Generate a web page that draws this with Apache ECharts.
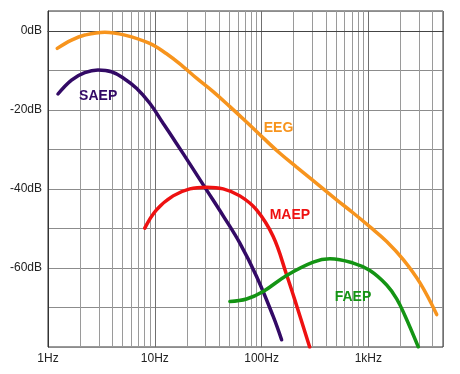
<!DOCTYPE html>
<html>
<head>
<meta charset="utf-8">
<script src="https://cdn.jsdelivr.net/npm/echarts@6/dist/echarts.min.js"></script>
<style>html,body{margin:0;padding:0;background:#fff}#c{width:460px;height:374px}</style>
</head>
<body>
<div id="c"></div>
<script>
// Frequencies (Hz) and levels (dB)
const eegFreq  = [1.22, 1.66, 2.21, 3.4, 5.24, 8.96, 12.8, 18.4, 24.6, 35.2, 50.5, 72.3, 103.5, 148.4, 212.8, 304.5, 406.6, 504.6, 722, 1035, 1484, 2124, 3045, 4367];
const eegDb    = [-4.45, -2.35, -1.09, -0.35, -1.09, -3.2, -5.76, -9.05, -12.0, -15.4, -19.2, -23.1, -27.1, -31.0, -34.5, -37.9, -40.7, -42.78, -46.1, -49.6, -53.3, -57.9, -63.8, -71.8];

const saepFreq = [1.24, 1.66, 2.21, 2.94, 3.93, 5.1, 6.74, 8.98, 11.96, 15.97, 21.28, 30.5, 43.7, 62.6, 89.8, 128.5, 154];
const saepDb   = [-16.0, -12.46, -10.6, -9.93, -10.36, -12.0, -14.55, -18.35, -23.4, -28.5, -33.68, -40.25, -46.82, -53.72, -62.16, -72.27, -78.16];

const maepFreq = [8.06, 10.37, 14.85, 21.28, 30.5, 43.7, 62.6, 89.8, 128.5, 171.5, 212.8, 282];
const maepDb   = [-49.93, -45.3, -41.77, -40.0, -39.57, -40.0, -41.77, -45.3, -52.05, -61.73, -69.5, -80.0];

const faepFreq = [50.5, 72.3, 103.5, 171.5, 304.5, 436.6, 722, 1035, 1484, 1842, 2203, 2936];
const faepDb   = [-68.48, -67.87, -65.95, -61.9, -58.52, -57.68, -58.77, -60.64, -64.3, -67.8, -72.1, -80.0];

const xTickValues = [1, 10, 100, 1000];
const xTickLabels = ['1Hz', '10Hz', '100Hz', '1kHz'];
const yTickValues = [0, -20, -40, -60];
const yTickLabels = ['0dB', '-20dB', '-40dB', '-60dB'];
const minorFreqs = [2,3,4,5,6,7,8,9,20,30,40,50,60,70,80,90,200,300,400,500,600,700,800,900,2000,3000,4000];

const seriesNames = ['EEG', 'SAEP', 'MAEP', 'FAEP'];
const seriesColors = ['#F7941D', '#330A66', '#EE1111', '#149414'];
const labelPos = [[144, -24.66], [2.95, -16.6], [184, -46.6], [717, -67.4]];

const zip = (a, b) => a.map((v, i) => [v, b[i]]);
const datasets = [zip(eegFreq, eegDb), zip(saepFreq, saepDb), zip(maepFreq, maepDb), zip(faepFreq, faepDb)];

const chart = echarts.init(document.getElementById('c'), null, {renderer: 'canvas'});
const font = '"Liberation Sans", Arial, sans-serif';

const lineSeries = datasets.map((d, i) => ({
  name: seriesNames[i],
  type: 'line',
  data: d,
  smooth: 0.4,
  showSymbol: false,
  z: 5,
  lineStyle: {color: seriesColors[i], width: 3.5, cap: 'round'},
  markPoint: {
    symbol: 'circle', symbolSize: 0, silent: true,
    label: {show: true, position: 'inside', formatter: seriesNames[i], color: seriesColors[i],
            fontFamily: font, fontWeight: 'bold', fontSize: 14},
    data: [{coord: labelPos[i]}]
  }
}));

const gridSeries = {
  type: 'line', data: [], z: 1, silent: true,
  markLine: {
    silent: true, symbol: 'none', animation: false,
    label: {show: false},
    lineStyle: {color: '#9a9a9a', width: 1, type: 'solid'},
    data: minorFreqs.map(v => ({xAxis: v})).concat([{yAxis: 0, lineStyle: {color: '#444', width: 1, type: 'solid'}}])
  }
};

chart.setOption({
  animation: false,
  backgroundColor: '#fff',
  grid: {left: 48, right: 17, top: 11, bottom: 27, show: true, borderColor: '#333', borderWidth: 1, containLabel: false},
  xAxis: {
    type: 'log', logBase: 10, min: 1, max: 5000,
    axisLine: {show: true, lineStyle: {color: '#333'}},
    axisTick: {show: false},
    axisLabel: {
      color: '#222', fontFamily: font, fontSize: 12, margin: 6,
      formatter: v => { const i = xTickValues.findIndex(t => Math.abs(t - v) < 1e-6 * t); return i >= 0 ? xTickLabels[i] : ''; }
    },
    splitLine: {show: true, lineStyle: {color: '#707070', width: 1}}
  },
  yAxis: {
    type: 'value', min: -80, max: 5, interval: 10,
    axisLine: {show: true, lineStyle: {color: '#333'}},
    axisTick: {show: false},
    axisLabel: {
      color: '#222', fontFamily: font, fontSize: 12, margin: 6,
      formatter: v => { const i = yTickValues.indexOf(v); return i >= 0 ? yTickLabels[i] : ''; }
    },
    splitLine: {show: true, lineStyle: {color: '#8c8c8c', width: 1}}
  },
  series: [gridSeries].concat(lineSeries)
});
</script>
</body>
</html>
